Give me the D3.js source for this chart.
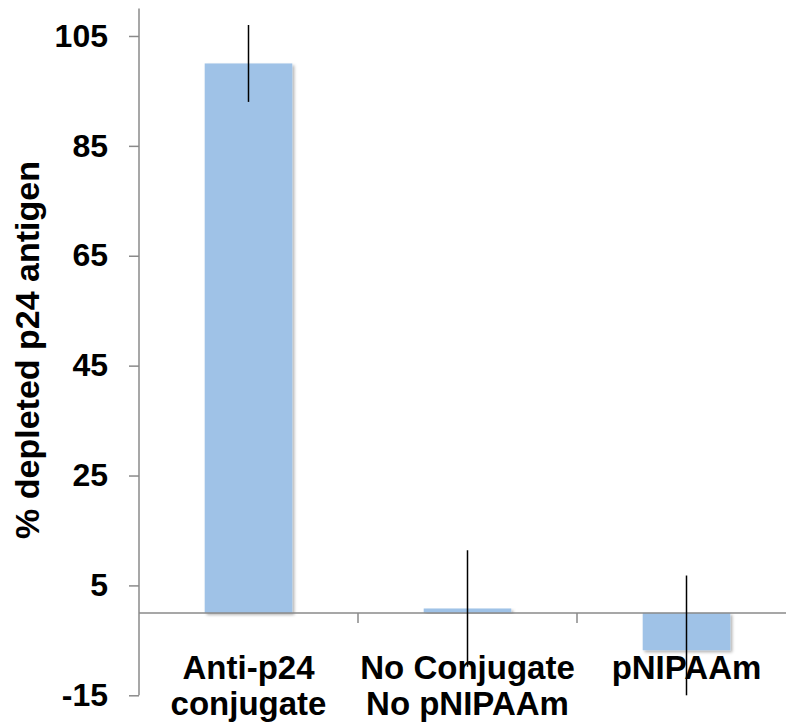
<!DOCTYPE html>
<html>
<head>
<meta charset="utf-8">
<script src="https://cdn.jsdelivr.net/npm/d3@7"></script>
<style>
  html, body { margin: 0; padding: 0; background: #ffffff; }
  svg { display: block; }
  text { font-family: "Liberation Sans", Arial, sans-serif; font-weight: bold; fill: #000; }
</style>
</head>
<body>
<svg id="chart" width="786" height="724"></svg>
<script>
// ---- data ----
const categories = ["Anti-p24 conjugate", "No Conjugate No pNIPAAm", "pNIPAAm"];
const categoryLines = [["Anti-p24", "conjugate"], ["No Conjugate", "No pNIPAAm"], ["pNIPAAm"]];
const values = [100, 0.8, -6.8];
const errors = [7, 10.6, 13.6];
const yTicks = [-15, 5, 25, 45, 65, 85, 105];
const yTitle = "% depleted p24 antigen";

// ---- layout ----
const W = 786, H = 724;
const axisX = 139, plotRight = 796;
const yTop = 8.5, yBottom = 695.3;
const yMin = -15, yMax = 110;

const svg = d3.select("#chart");

const defs = svg.append("defs");
const f = defs.append("filter").attr("id", "shadow")
  .attr("x", "-10%").attr("y", "-10%").attr("width", "130%").attr("height", "130%");
f.append("feDropShadow").attr("dx", 2).attr("dy", 2).attr("stdDeviation", 1.6)
  .attr("flood-color", "#000").attr("flood-opacity", 0.3);

const y = d3.scaleLinear().domain([yMin, yMax]).range([yBottom, yTop]);
const x = d3.scaleBand().domain(categories).range([axisX, plotRight])
  .paddingInner(0.6).paddingOuter(0.3);

const data = categories.map((c, i) => ({ c, v: values[i], e: errors[i], lines: categoryLines[i] }));

// bars
svg.append("g").selectAll("rect").data(data).join("rect")
  .attr("x", d => x(d.c))
  .attr("width", x.bandwidth())
  .attr("y", d => y(Math.max(0, d.v)))
  .attr("height", d => Math.abs(y(d.v) - y(0)))
  .attr("fill", "#9fc2e7")
  .attr("filter", "url(#shadow)");

// x axis line at zero
const gx = svg.append("g");
gx.append("line")
  .attr("x1", axisX).attr("x2", W)
  .attr("y1", y(0)).attr("y2", y(0))
  .attr("stroke", "#8a8a8a").attr("stroke-width", 1.5);
// category boundary ticks
const step = x.step();
const boundaries = categories.slice(1).map(c => x(c) - x.paddingInner() * step / 2);
gx.selectAll("line.tk").data(boundaries).join("line").attr("class", "tk")
  .attr("x1", d => d).attr("x2", d => d)
  .attr("y1", y(0)).attr("y2", y(0) + 10)
  .attr("stroke", "#8a8a8a").attr("stroke-width", 1.5);

// y axis
const gy = svg.append("g").attr("transform", `translate(${axisX},0)`)
  .call(d3.axisLeft(y).tickValues(yTicks).tickFormat(d => String(d))
    .tickSize(10).tickPadding(21).tickSizeOuter(0));
gy.select(".domain").attr("stroke", "#8a8a8a").attr("stroke-width", 1.5)
  .attr("d", `M0,${yTop}V${yBottom}`);
gy.selectAll(".tick line").attr("stroke", "#8a8a8a").attr("stroke-width", 1.5);
gy.selectAll(".tick text")
  .style("font-family", '"Liberation Sans", Arial, sans-serif')
  .style("font-weight", "bold").attr("font-size", 32).attr("fill", "#000");

// error bars (clipped at axis minimum)
svg.append("g").selectAll("line").data(data).join("line")
  .attr("x1", d => x(d.c) + x.bandwidth() / 2)
  .attr("x2", d => x(d.c) + x.bandwidth() / 2)
  .attr("y1", d => y(Math.min(yMax, d.v + d.e)))
  .attr("y2", d => y(Math.max(yMin, d.v - d.e)))
  .attr("stroke", "#000").attr("stroke-width", 1.5);

// category labels
const lab = svg.append("g").selectAll("text").data(data).join("text")
  .attr("text-anchor", "middle")
  .attr("font-size", 33)
  .attr("x", d => x(d.c) + x.bandwidth() / 2);
lab.selectAll("tspan").data(d => d.lines.map(l => ({ l, cx: x(d.c) + x.bandwidth() / 2 })))
  .join("tspan")
  .attr("x", d => d.cx)
  .attr("y", (d, i) => 679 + i * 36)
  .text(d => d.l);

// y title
svg.append("text")
  .attr("transform", `translate(39,350) rotate(-90)`)
  .attr("text-anchor", "middle")
  .attr("font-size", 34)
  .text(yTitle);
</script>
</body>
</html>
